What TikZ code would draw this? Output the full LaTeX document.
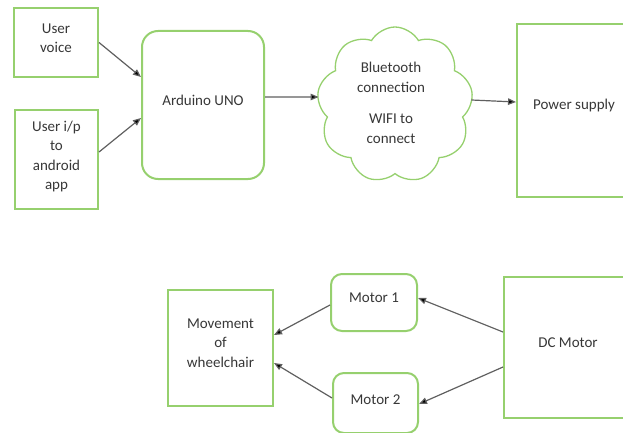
\documentclass[tikz,border=0pt]{standalone}
\usepackage{fontspec}
\setmainfont{Carlito}
\usetikzlibrary{shapes.symbols,arrows.meta}
\definecolor{boxgreen}{RGB}{150,208,110}
\definecolor{txtgray}{RGB}{55,55,55}
\definecolor{arrgray}{RGB}{95,95,95}
\tikzset{
  sqbox/.style={draw=boxgreen,line width=2pt,inner sep=0pt},
  rbox/.style={sqbox,rounded corners=#1},
  cloudbox/.style={draw=boxgreen,line width=1.3pt,cloud,cloud puffs=9,cloud puff arc=120,aspect=1,inner sep=0pt},
  lbl/.style={text=txtgray,align=center,inner sep=0pt,font=\fontsize{15}{19.5}\selectfont},
  conn/.style={draw=arrgray,line width=1.2pt,-{Triangle[length=8pt,width=6.5pt,fill=black]}}
}
\begin{document}
\begin{tikzpicture}[x=1pt,y=-1pt]
\clip (0,0) rectangle (623,433);
\useasboundingbox (0,0) rectangle (623,433);
% top row
\node[sqbox,minimum width=84pt,minimum height=69pt] (uv) at (56,42.5) {};
\node[lbl] (uvt) at (56,38) {User\\voice};
\node[sqbox,minimum width=83pt,minimum height=99pt] (ip) at (56.5,159.5) {};
\node[lbl] (ipt) at (56.5,156.5) {User i/p\\to\\android\\app};
\node[rbox=16pt,minimum width=122pt,minimum height=148pt] (ard) at (203,105) {};
\node[lbl] (ardt) at (203,100) {Arduino UNO};
\node[cloudbox,minimum width=156pt,minimum height=156pt] (cl) at (395,105) {};
\node[lbl] (cltxt) at (391,103) {Bluetooth\\connection\\[12pt]WIFI to\\connect};
\node[sqbox,minimum width=114pt,minimum height=173pt] (ps) at (574,110.5) {};
\node[lbl] (pst) at (574,106) {Power supply};
% bottom row
\node[sqbox,minimum width=105pt,minimum height=116pt] (mv) at (220.5,348) {};
\node[lbl] (mvt) at (220.5,343) {Movement\\of\\wheelchair};
\node[rbox=11pt,minimum width=86pt,minimum height=57pt] (m1) at (374,302.5) {};
\node[lbl] (m1t) at (374,298) {Motor 1};
\node[rbox=11pt,minimum width=85pt,minimum height=60pt] (m2) at (375.5,403) {};
\node[lbl] (m2t) at (375.5,400) {Motor 2};
\node[sqbox,minimum width=132pt,minimum height=141pt] (dc) at (570,347.5) {};
\node[lbl] (dct) at (568,343) {DC Motor};
% connectors
\draw[conn] (uv.east) -- ([yshift=28pt]ard.west);
\draw[conn] ([yshift=7.5pt]ip.east) -- ([yshift=-13pt]ard.west);
\draw[conn] ([yshift=8pt]ard.east) -- ([yshift=8pt]cl.west);
\draw[conn] ([yshift=5pt]cl.east) -- ([yshift=8.5pt]ps.west);
\draw[conn] ([yshift=15.5pt]dc.west) -- ([yshift=4.5pt]m1.east);
\draw[conn] ([yshift=-19.5pt]dc.west) -- ([yshift=-1pt]m2.east);
\draw[conn] ([yshift=-2.5pt]m1.west) -- ([yshift=13pt]mv.east);
\draw[conn] ([yshift=5pt]m2.west) -- ([yshift=-15pt]mv.east);
\end{tikzpicture}
\end{document}
